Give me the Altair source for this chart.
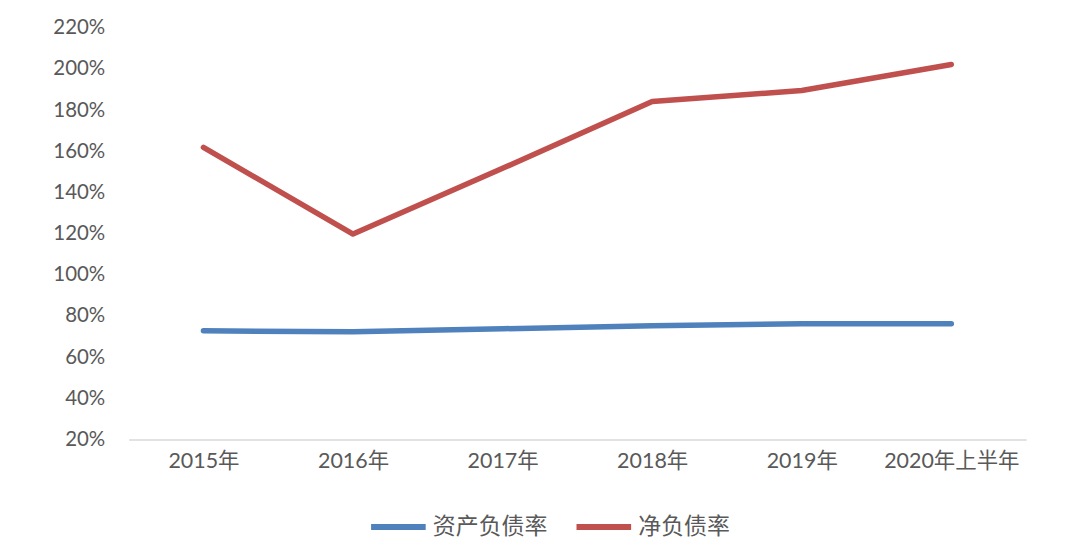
import altair as alt
import pandas as pd

years = ["2015年", "2016年", "2017年", "2018年", "2019年", "2020年上半年"]
asset_liability = [0.728, 0.723, 0.738, 0.752, 0.762, 0.762]
net_debt = [1.619, 1.198, 1.517, 1.842, 1.895, 2.021]
series_names = ["资产负债率", "净负债率"]
colors = ["#4f81bd", "#c0504d"]

rows = []
for y, v in zip(years, asset_liability):
    rows.append({"year": y, "value": v, "series": series_names[0]})
for y, v in zip(years, net_debt):
    rows.append({"year": y, "value": v, "series": series_names[1]})
df = pd.DataFrame(rows)

font = "Lato, Noto Sans CJK SC"

chart = alt.Chart(df).mark_line(strokeWidth=5.5, strokeCap="round", strokeJoin="round").encode(
    x=alt.X("year:N", sort=years, title=None,
            scale=alt.Scale(type="point", padding=0.5),
            axis=alt.Axis(labelAngle=0, ticks=False, domainColor="#d9d9d9", domainWidth=1.5,
                          labelFontSize=21.5, labelColor="#595959", labelPadding=11, labelFont=font)),
    y=alt.Y("value:Q", title=None,
            scale=alt.Scale(domain=[0.2, 2.2], nice=False, zero=False),
            axis=alt.Axis(values=[0.2 + 0.2 * i for i in range(11)], format=".0%", grid=False,
                          domain=False, ticks=False, labelFontSize=20.5, labelColor="#595959",
                          labelPadding=24, labelFont=font)),
    color=alt.Color("series:N", sort=series_names,
                    scale=alt.Scale(domain=series_names, range=colors),
                    legend=alt.Legend(title=None, orient="none", direction="horizontal",
                                      legendX=240, legendY=470,
                                      symbolType="stroke", symbolSize=3000, symbolStrokeWidth=6,
                                      labelFontSize=23, labelColor="#595959", labelFont=font,
                                      columnPadding=17, labelOffset=4)),
).properties(
    width=900, height=413,
    autosize=alt.AutoSizeParams(type="none"),
    padding={"left": 121, "top": 19, "right": 40, "bottom": 100},
).configure_view(stroke=None)

chart.save("out.html", embed_options={"renderer": "svg", "actions": False})
